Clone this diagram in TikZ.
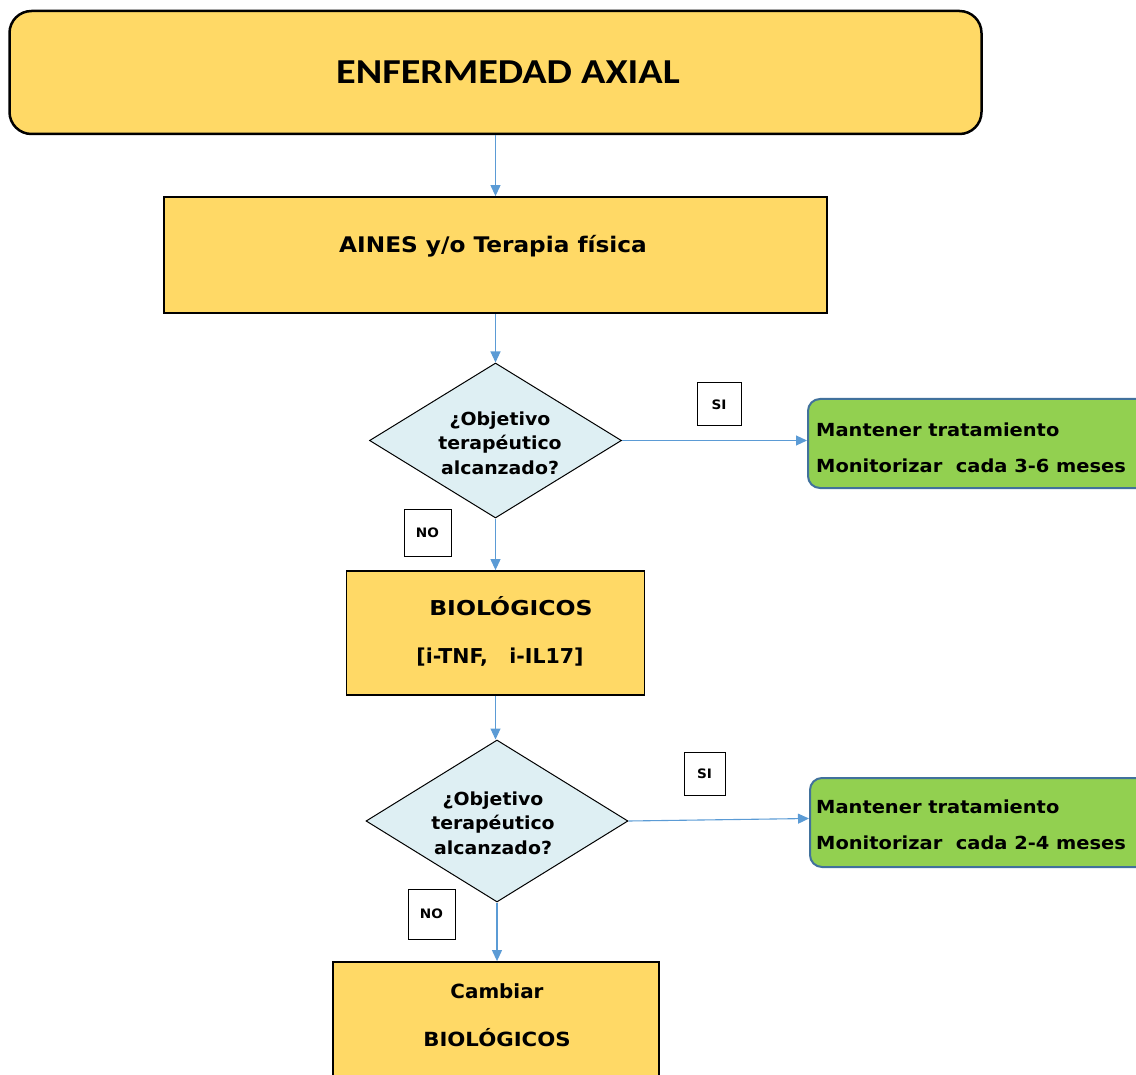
\documentclass[tikz,border=0pt]{standalone}
\usepackage{fontspec}
\setmainfont{DejaVu Sans}
\newfontfamily\titlefont{Carlito}
\usetikzlibrary{shapes.geometric,arrows.meta}
\definecolor{boxyellow}{HTML}{FFD966}
\definecolor{diacyan}{HTML}{DEEFF3}
\definecolor{boxgreen}{HTML}{92D050}
\definecolor{greenedge}{HTML}{41719C}
\definecolor{arrowblue}{HTML}{5B9BD5}
\newcommand\myfnt[3]{\fontsize{#1}{#2}\selectfont\bfseries\addfontfeature{FakeStretch=#3}}
\tikzset{
  titlebox/.style={draw=black, line width=2.5pt, fill=boxyellow, rounded corners=22pt, inner sep=0pt},
  ybox/.style={draw=black, line width=1.8pt, fill=boxyellow, inner sep=0pt},
  decision/.style={diamond, draw=black, line width=1pt, fill=diacyan, inner sep=0pt},
  gbox/.style={draw=greenedge, line width=2pt, fill=boxgreen, rounded corners=12pt, inner sep=0pt},
  tagbox/.style={draw=black, line width=1pt, fill=white, inner sep=0pt, font=\myfnt{13}{15}{1.05}},
  arrow/.style={draw=arrowblue, line width=1.1pt, -{Triangle[length=11pt,width=10pt]}},
  txt/.style={inner sep=0pt, font=\myfnt{18}{24.5}{1.05}, align=center},
  gtxt/.style={inner sep=0pt, anchor=west, font=\myfnt{18}{36}{1.08}, align=left},
}
\begin{document}
\begin{tikzpicture}[x=1pt,y=-1pt]
\useasboundingbox (0,0) rectangle (1136,1075);
% boxes
\node[titlebox, minimum width=972, minimum height=123] (title) at (495.5,72.5) {};
\node[inner sep=0pt, font=\titlefont\fontsize{35}{40}\selectfont\bfseries\addfontfeature{FakeStretch=1.15}] (titletext) at (508,72) {ENFERMEDAD AXIAL};

\node[ybox, minimum width=663, minimum height=116] (aines) at (495.5,255) {};
\node[txt, font=\myfnt{21.5}{24}{1.08}] (ainestext) at (493,246) {AINES y/o Terapia física};

\node[decision, minimum width=252, minimum height=155] (d1) at (495.5,440.5) {};
\node[txt] (d1text) at (500,443) {¿Objetivo\\terapéutico\\alcanzado?};

\node[tagbox, minimum width=44, minimum height=43] (si1) at (719,404.5) {SI};
\node[gbox, minimum width=342, minimum height=89] (g1) at (979,443.5) {};
\node[gtxt] (g1text) at (816,448) {Mantener tratamiento\\Monitorizar\ \ cada 3-6 meses};

\node[tagbox, minimum width=47, minimum height=47] (no1) at (427.5,532.5) {NO};

\node[ybox, minimum width=298, minimum height=124] (bio) at (495.5,633) {};
\node[txt, font=\myfnt{20.5}{24}{1.15}] (biotext1) at (511,606) {BIOLÓGICOS};
\node[txt, font=\myfnt{20.5}{24}{1.0}] (biotext2) at (500,657) {[i-TNF,\ \ \ i-IL17]};

\node[decision, minimum width=262, minimum height=162] (d2) at (497,821) {};
\node[txt] (d2text) at (493,823) {¿Objetivo\\terapéutico\\alcanzado?};

\node[tagbox, minimum width=41, minimum height=43] (si2) at (704.5,773.5) {SI};
\node[gbox, minimum width=340, minimum height=89] (g2) at (980,822.5) {};
\node[gtxt] (g2text) at (816,825) {Mantener tratamiento\\Monitorizar\ \ cada 2-4 meses};

\node[tagbox, minimum width=47, minimum height=50] (no2) at (431.5,914) {NO};

\node[ybox, minimum width=326, minimum height=130] (cambiar) at (496,1027) {};
\node[txt, font=\myfnt{19.5}{22}{1.02}] (camtext1) at (497,991) {Cambiar};
\node[txt, font=\myfnt{19.5}{22}{1.09}] (camtext2) at (497,1038) {BIOLÓGICOS};

% connectors
\draw[arrow] (title.south -| aines.north) -- (aines.north);
\draw[arrow] (aines.south) -- (d1.north);
\draw[arrow] (d1.east) -- (g1.west |- d1.east);
\draw[arrow] (d1.south) -- (bio.north);
\draw[arrow] (bio.south) -- (d2.north -| bio.south);
\draw[arrow] (d2.east) -- ([yshift=4pt]g2.west);
\draw[arrow] (d2.south) -- (cambiar.north -| d2.south);
\end{tikzpicture}
\end{document}
